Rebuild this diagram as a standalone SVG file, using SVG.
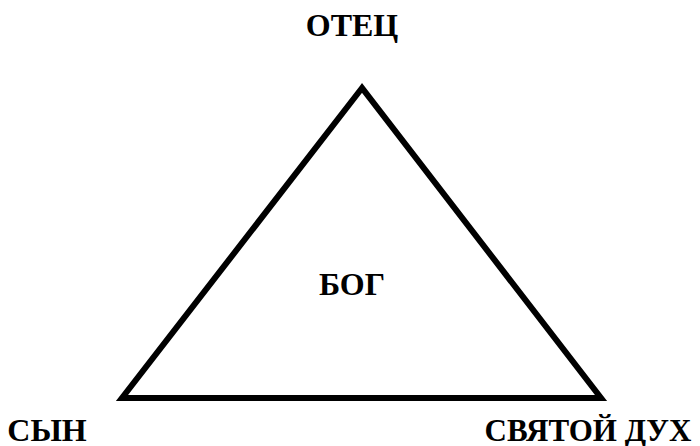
<svg xmlns="http://www.w3.org/2000/svg" width="700" height="446" viewBox="0 0 700 446">
<style>
text{font-family:"Liberation Serif","Times New Roman",serif;font-weight:bold;font-size:32px;fill:#000;text-anchor:middle}
.edge{fill:none;stroke:#000;stroke-width:6;stroke-linejoin:miter}
</style>
<rect width="700" height="446" fill="#fff"/>
<g id="connectors">
<polygon class="edge" points="362,88 122,398 601,398"/>
</g>
<g id="father"><text x="352" y="36">ОТЕЦ</text></g>
<g id="god"><text x="352" y="295">БОГ</text></g>
<g id="son"><text x="47" y="441">СЫН</text></g>
<g id="spirit"><text x="588" y="441" style="font-size:31px">СВЯТОЙ ДУХ</text></g>
</svg>
